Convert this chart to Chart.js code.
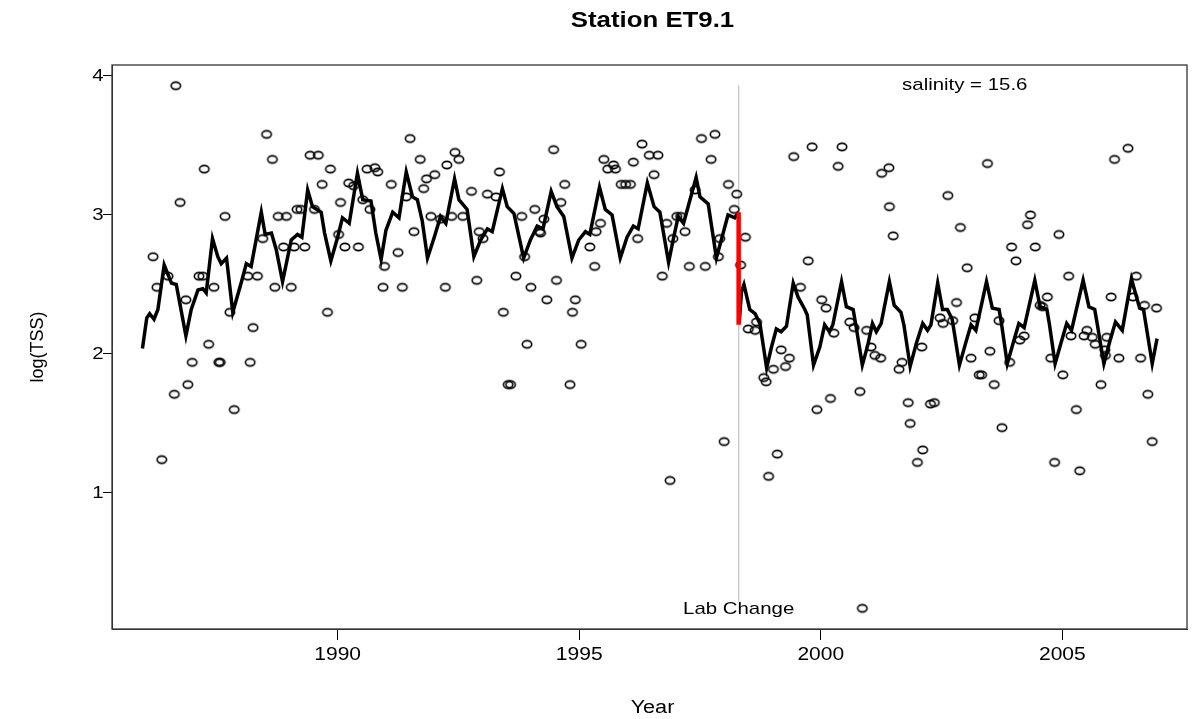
<!DOCTYPE html>
<html>
<head>
<meta charset="utf-8">
<script src="https://cdn.jsdelivr.net/npm/chart.js@4"></script>
<style>
  body { margin: 0; background: #fff; }
  canvas { display: block; }
</style>
</head>
<body>
<canvas id="tssChart" width="1193" height="719"></canvas>
<script>
// observed samples (year, log TSS)
const obsYears = [1986.18,1986.26,1986.36,1986.49,1986.62,1986.65,1986.74,1986.86,1986.90,1986.99,
  1987.13,1987.21,1987.24,1987.33,1987.44,1987.54,1987.57,1987.67,1987.77,1987.86,
  1988.14,1988.19,1988.25,1988.34,1988.45,1988.53,1988.65,1988.70,1988.77,1988.88,1988.94,
  1989.04,1989.10,1989.16,1989.24,1989.32,1989.43,1989.52,1989.60,1989.68,1989.79,1989.85,
  1990.02,1990.06,1990.15,1990.23,1990.33,1990.43,1990.52,1990.61,1990.67,1990.77,1990.83,1990.94,1990.97,
  1991.11,1991.25,1991.34,1991.42,1991.50,1991.58,1991.71,1991.78,1991.84,1991.93,
  1992.01,1992.13,1992.23,1992.26,1992.36,1992.43,1992.51,1992.59,1992.77,1992.88,1992.93,
  1993.01,1993.10,1993.28,1993.35,1993.43,1993.53,1993.58,1993.69,1993.81,1993.87,1993.92,
  1994.00,1994.08,1994.18,1994.20,1994.27,1994.33,1994.47,1994.53,1994.62,1994.70,1994.81,1994.86,1994.92,
  1995.04,1995.22,1995.32,1995.35,1995.44,1995.51,1995.59,1995.71,1995.75,1995.87,1995.96,
  1996.06,1996.12,1996.21,1996.30,1996.45,1996.55,1996.63,1996.72,1996.81,1996.88,1996.94,
  1997.02,1997.10,1997.19,1997.28,1997.40,1997.53,1997.61,1997.73,1997.81,1997.88,1997.91,
  1998.00,1998.09,1998.21,1998.26,1998.34,1998.44,1998.50,1998.64,1998.67,1998.82,1998.87,1998.92,
  1999.02,1999.10,1999.18,1999.27,1999.35,1999.44,1999.58,1999.74,1999.82,1999.92,
  2000.02,2000.11,2000.20,2000.27,2000.36,2000.44,2000.60,2000.69,2000.81,2000.86,2000.95,
  2001.04,2001.12,2001.24,2001.26,2001.41,2001.42,2001.50,2001.62,2001.68,2001.81,2001.85,
  2002.00,2002.09,2002.11,2002.27,2002.35,2002.47,2002.53,2002.63,2002.73,2002.81,2002.89,
  2003.03,2003.11,2003.19,2003.28,2003.33,2003.45,2003.50,2003.59,2003.69,2003.75,2003.91,2003.95,
  2004.04,2004.12,2004.21,2004.28,2004.34,2004.44,2004.54,2004.59,2004.69,2004.76,2004.84,2004.93,
  2005.01,2005.13,2005.18,2005.29,2005.36,2005.45,2005.51,2005.62,2005.68,2005.80,2005.88,2005.89,2005.92,
  2006.01,2006.08,2006.17,2006.36,2006.46,2006.53,2006.62,2006.70,2006.77,2006.86,2006.95];
const obsValues = [2.70,2.48,1.24,2.56,1.71,3.93,3.09,2.39,1.78,1.94,
  2.56,2.56,3.33,2.07,2.48,1.94,1.94,2.99,2.30,1.60,
  2.56,1.94,2.19,2.56,2.83,3.58,3.40,2.48,2.99,2.77,2.99,
  2.48,2.77,3.04,3.04,2.77,3.43,3.04,3.43,3.22,2.30,3.33,
  2.86,3.09,2.77,3.23,3.21,2.77,3.11,3.33,3.04,3.34,3.31,2.48,2.63,
  3.22,2.73,2.48,3.13,3.55,2.88,3.40,3.19,3.26,2.99,
  3.29,2.97,2.48,3.36,2.99,3.45,3.40,2.99,3.17,2.53,2.88,
  2.83,3.15,3.13,3.31,2.30,1.78,1.78,2.56,2.99,2.70,2.07,
  2.48,3.04,2.88,2.87,2.97,2.39,3.47,2.53,3.09,3.22,1.78,2.30,2.39,
  2.07,2.77,2.63,2.88,2.94,3.40,3.33,3.36,3.33,3.22,3.22,
  3.22,3.38,2.83,3.51,3.43,3.29,3.43,2.56,2.94,1.09,2.83,
  2.99,2.99,2.88,2.63,3.18,3.55,2.63,3.40,3.58,2.70,2.83,
  1.37,3.22,3.04,3.15,2.64,2.84,2.18,2.17,2.23,1.83,1.80,1.12,
  1.89,1.28,2.03,1.91,1.97,3.42,2.48,2.67,3.49,1.60,
  2.39,2.33,1.68,2.15,3.35,3.49,2.23,2.19,1.73,0.17,2.17,
  2.05,1.99,1.97,3.30,3.34,3.06,2.85,1.89,1.94,1.65,1.50,
  1.22,2.05,1.31,1.64,1.65,2.26,2.22,3.14,2.24,2.37,2.91,
  2.62,1.97,2.26,1.85,1.85,3.37,2.02,1.78,2.24,1.47,1.94,2.77,
  2.67,2.10,2.13,2.93,3.00,2.77,2.35,2.34,2.41,1.97,1.22,2.86,
  1.85,2.56,2.13,1.60,1.16,2.13,2.17,2.12,2.07,1.78,2.03,1.99,2.12,
  2.41,3.40,1.97,3.48,2.41,2.56,1.97,2.35,1.71,1.37,2.33];

// fitted curve before the lab change
const fitBeforeYears = [1985.96,1986.05,1986.11,1986.20,1986.28,1986.41,1986.48,1986.56,1986.66,1986.86,
  1986.97,1987.11,1987.21,1987.28,1987.41,1987.52,1987.59,1987.70,1987.83,
  1988.01,1988.11,1988.21,1988.42,1988.50,1988.63,1988.73,1988.86,
  1989.04,1989.17,1989.26,1989.38,1989.48,1989.66,1989.73,1989.86,
  1990.00,1990.10,1990.24,1990.41,1990.52,1990.69,1990.79,1990.90,
  1991.00,1991.14,1991.27,1991.42,1991.55,1991.65,1991.75,1991.86,
  1992.00,1992.13,1992.24,1992.42,1992.51,1992.68,1992.82,1992.96,
  1993.10,1993.20,1993.41,1993.51,1993.65,1993.85,1993.99,
  1994.13,1994.25,1994.42,1994.54,1994.68,1994.85,1994.99,
  1995.13,1995.22,1995.42,1995.54,1995.68,1995.85,1995.99,
  1996.12,1996.22,1996.41,1996.55,1996.67,1996.85,1996.95,
  1997.05,1997.16,1997.42,1997.50,1997.67,1997.84,1997.98,
  1998.08,1998.22,1998.30];
const fitBeforeValues = [2.04,2.26,2.29,2.25,2.32,2.64,2.58,2.51,2.50,2.13,
  2.32,2.46,2.47,2.44,2.83,2.70,2.65,2.69,2.30,
  2.52,2.65,2.63,3.02,2.86,2.87,2.75,2.52,
  2.82,2.86,2.84,3.18,3.06,3.02,2.87,2.67,
  2.84,2.98,2.94,3.30,3.11,3.10,2.87,2.68,
  2.89,3.02,2.98,3.31,3.13,3.11,2.96,2.69,
  2.84,2.99,2.94,3.26,3.11,3.04,2.70,2.82,
  2.90,2.88,3.19,3.06,3.01,2.69,2.82,
  2.92,2.90,3.17,3.06,2.99,2.69,2.82,
  2.88,2.86,3.20,3.04,3.00,2.69,2.84,
  2.92,2.90,3.23,3.06,3.02,2.66,2.83,
  2.99,2.94,3.27,3.13,3.08,2.69,2.87,
  3.00,2.98,3.02];

// fitted curve after the lab change
const fitAfterYears = [1998.31,1998.36,1998.41,1998.53,1998.64,1998.74,1998.88,1998.98,
  1999.08,1999.18,1999.29,1999.43,1999.53,1999.67,1999.72,1999.85,1999.98,
  2000.08,2000.18,2000.25,2000.43,2000.53,2000.67,2000.73,2000.86,2000.97,
  2001.07,2001.15,2001.25,2001.42,2001.52,2001.66,2001.72,2001.85,2001.98,
  2002.11,2002.21,2002.28,2002.42,2002.52,2002.62,2002.72,2002.87,
  2003.00,2003.11,2003.21,2003.43,2003.55,2003.69,2003.74,2003.86,
  2004.00,2004.10,2004.21,2004.43,2004.54,2004.68,2004.73,2004.85,
  2004.99,2005.09,2005.19,2005.43,2005.55,2005.67,2005.72,2005.86,
  2005.99,2006.10,2006.24,2006.43,2006.51,2006.60,2006.68,2006.86,2006.96];
const fitAfterValues = [2.22,2.45,2.50,2.32,2.29,2.22,1.90,2.05,
  2.18,2.16,2.20,2.51,2.41,2.32,2.28,1.92,2.05,
  2.21,2.16,2.21,2.52,2.34,2.32,2.20,1.92,2.06,
  2.22,2.16,2.22,2.52,2.35,2.30,2.21,1.91,2.08,
  2.22,2.17,2.21,2.51,2.32,2.32,2.25,1.92,
  2.08,2.21,2.17,2.52,2.33,2.32,2.22,1.93,
  2.10,2.22,2.19,2.53,2.34,2.32,2.22,1.93,
  2.10,2.22,2.17,2.53,2.34,2.32,2.22,1.93,
  2.10,2.23,2.17,2.54,2.44,2.33,2.32,1.93,2.11];

// lab change marker
const labChangeYear = 1998.30;
const stepValues = [3.02, 2.21];
const markerValues = [3.93, 0.22];

const xTicks = [1990, 1995, 2000, 2005];
const yTicks = [1, 2, 3, 4];

function toPoints(xs, ys) {
  return xs.map((x, i) => ({ x: x, y: ys[i] }));
}

// open ellipse marker, like R's pch=1 on a slightly stretched image
function makeCircle() {
  const c = document.createElement('canvas');
  c.width = 14; c.height = 12;
  const g = c.getContext('2d');
  g.strokeStyle = '#000';
  g.lineWidth = 1.6;
  g.beginPath();
  g.ellipse(7, 6, 4.7, 3.6, 0, 0, Math.PI * 2);
  g.stroke();
  return c;
}

const FONT = '"Liberation Sans", Arial, sans-serif';
const SX = 1.2; // the picture is a little wider than tall

function stretchedText(ctx, txt, x, y, font) {
  ctx.save();
  ctx.font = font;
  ctx.translate(x, y);
  ctx.scale(SX, 1);
  ctx.fillText(txt, 0, 0);
  ctx.restore();
}

const textPlugin = {
  id: 'rText',
  afterDraw(chart) {
    const ctx = chart.ctx;
    const a = chart.chartArea;
    const xs = chart.scales.x, ys = chart.scales.y;
    ctx.save();
    // box
    ctx.strokeStyle = '#333';
    ctx.lineWidth = 1.3;
    ctx.strokeRect(a.left, a.top, a.right - a.left, a.bottom - a.top);
    ctx.fillStyle = '#000';
    ctx.textAlign = 'center';
    ctx.textBaseline = 'middle';
    const mid = (a.left + a.right) / 2;
    stretchedText(ctx, 'Station ET9.1', mid + 3, 21, 'bold 21.5px ' + FONT);
    stretchedText(ctx, 'Year', mid + 3, 708, '18px ' + FONT);
    stretchedText(ctx, 'Lab Change', xs.getPixelForValue(labChangeYear), ys.getPixelForValue(0.165), '17px ' + FONT);
    stretchedText(ctx, 'salinity = 15.6', xs.getPixelForValue(2002.98), ys.getPixelForValue(3.93), '17px ' + FONT);
    xTicks.forEach(v => {
      stretchedText(ctx, String(v), xs.getPixelForValue(v), 655, '17.5px ' + FONT);
    });
    yTicks.forEach(v => {
      stretchedText(ctx, String(v), 98, ys.getPixelForValue(v), '17px ' + FONT);
    });
    ctx.font = '18px ' + FONT;
    ctx.translate(38, (a.top + a.bottom) / 2);
    ctx.rotate(-Math.PI / 2);
    ctx.fillText('log(TSS)', 0, 0);
    ctx.restore();
  }
};

const ctx = document.getElementById('tssChart').getContext('2d');
new Chart(ctx, {
  type: 'scatter',
  data: {
    datasets: [
      {
        data: toPoints([labChangeYear, labChangeYear], markerValues),
        showLine: true, borderColor: '#c8c8c8', borderWidth: 1, pointRadius: 0, order: 4
      },
      {
        data: toPoints(obsYears, obsValues),
        pointStyle: makeCircle(), pointRadius: 5, order: 3
      },
      {
        data: toPoints(fitBeforeYears, fitBeforeValues),
        showLine: true, borderColor: '#000', borderWidth: 3.5, pointRadius: 0, order: 2
      },
      {
        data: toPoints(fitAfterYears, fitAfterValues),
        showLine: true, borderColor: '#000', borderWidth: 3.5, pointRadius: 0, order: 2
      },
      {
        data: toPoints([labChangeYear, labChangeYear], stepValues),
        showLine: true, borderColor: '#ff0000', borderWidth: 4.5, pointRadius: 0, order: 1
      }
    ]
  },
  options: {
    responsive: false,
    animation: false,
    devicePixelRatio: 1,
    layout: { padding: { top: 65, right: 3, left: 0, bottom: 0 } },
    plugins: { legend: { display: false }, tooltip: { enabled: false } },
    scales: {
      x: {
        type: 'linear', min: 1985.33, max: 2007.58,
        afterBuildTicks: s => { s.ticks = xTicks.map(v => ({ value: v })); },
        afterFit: s => { s.height = 90; },
        grid: { drawOnChartArea: false, color: '#000', tickLength: 11 },
        border: { display: true, color: '#333' },
        ticks: { display: false }
      },
      y: {
        type: 'linear', min: 0.0216, max: 4.079,
        afterBuildTicks: s => { s.ticks = yTicks.map(v => ({ value: v })); },
        afterFit: s => { s.width = 112; },
        grid: { drawOnChartArea: false, color: '#000', tickLength: 9 },
        border: { display: true, color: '#333' },
        ticks: { display: false }
      }
    }
  },
  plugins: [textPlugin]
});
</script>
</body>
</html>
